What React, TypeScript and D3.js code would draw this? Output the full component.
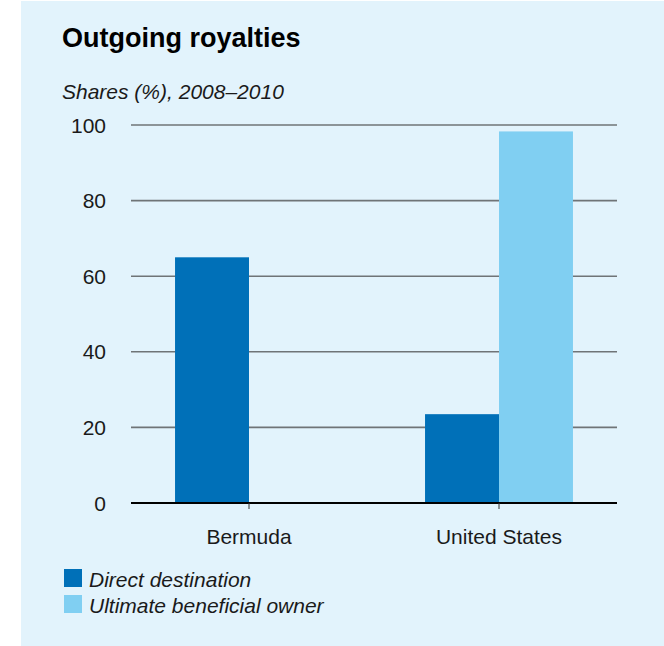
import React, { useEffect, useRef } from "react";
import * as d3 from "d3";

const categories = ["Bermuda", "United States"];
const seriesNames = ["Direct destination", "Ultimate beneficial owner"];
const directValues = [65, 23.5];
const ownerValues = [0, 98.3];
const yTicks = [0, 20, 40, 60, 80, 100];
const colors = ["#0070b8", "#80cff2"];

export default function App() {
  const ref = useRef<SVGSVGElement>(null);

  useEffect(() => {
    if (!ref.current) return;
    const root = d3.select(ref.current);
    root.selectAll("*").remove();

    const font = "'Liberation Sans', Arial, Helvetica, sans-serif";

    // panel background
    root
      .append("rect")
      .attr("x", 21)
      .attr("y", 1)
      .attr("width", 643)
      .attr("height", 645)
      .attr("fill", "#e2f3fc");

    root
      .append("text")
      .attr("x", 62)
      .attr("y", 47)
      .style("font-family", font)
      .style("font-size", "27px")
      .style("font-weight", "bold")
      .attr("fill", "#000")
      .text("Outgoing royalties");

    root
      .append("text")
      .attr("x", 62)
      .attr("y", 99)
      .style("font-family", font)
      .style("font-size", "21px")
      .style("font-style", "italic")
      .attr("fill", "#1a1a1a")
      .text("Shares (%), 2008–2010");

    const y = d3.scaleLinear().domain([0, 100]).range([503, 125]);
    const x0 = d3.scaleBand().domain(categories).range([124, 624]).padding(0);
    const x1 = d3
      .scaleBand()
      .domain(seriesNames)
      .range([0, x0.bandwidth()])
      .paddingInner(0)
      .paddingOuter(0.69);

    // gridlines
    root
      .append("g")
      .selectAll("line")
      .data(yTicks.filter((t) => t !== 0))
      .enter()
      .append("line")
      .attr("x1", 131)
      .attr("x2", 617)
      .attr("y1", (d) => y(d))
      .attr("y2", (d) => y(d))
      .attr("stroke", "#6f7477")
      .attr("stroke-width", 1.6);

    // y labels
    root
      .append("g")
      .selectAll("text")
      .data(yTicks)
      .enter()
      .append("text")
      .attr("x", 106)
      .attr("y", (d) => y(d) + 7.5)
      .attr("text-anchor", "end")
      .style("font-family", font)
      .style("font-size", "21px")
      .attr("fill", "#1a1a1a")
      .text((d) => d);

    // bars
    const rows = categories.map((c, i) => ({
      cat: c,
      vals: [directValues[i], ownerValues[i]],
    }));
    const groups = root
      .append("g")
      .selectAll("g")
      .data(rows)
      .enter()
      .append("g")
      .attr("transform", (d) => `translate(${x0(d.cat)},0)`);
    groups
      .selectAll("rect")
      .data((d) => d.vals.map((v, j) => ({ v, s: seriesNames[j], j })))
      .enter()
      .append("rect")
      .attr("x", (d) => x1(d.s) as number)
      .attr("width", x1.bandwidth())
      .attr("y", (d) => y(d.v))
      .attr("height", (d) => y(0) - y(d.v))
      .attr("fill", (d) => colors[d.j]);

    // baseline + ticks
    root
      .append("line")
      .attr("x1", 131)
      .attr("x2", 617)
      .attr("y1", y(0))
      .attr("y2", y(0))
      .attr("stroke", "#000")
      .attr("stroke-width", 2);

    root
      .append("g")
      .selectAll("line")
      .data(categories)
      .enter()
      .append("line")
      .attr("x1", (d) => (x0(d) as number) + x0.bandwidth() / 2)
      .attr("x2", (d) => (x0(d) as number) + x0.bandwidth() / 2)
      .attr("y1", y(0))
      .attr("y2", y(0) + 6)
      .attr("stroke", "#333")
      .attr("stroke-width", 1);

    root
      .append("g")
      .selectAll("text")
      .data(categories)
      .enter()
      .append("text")
      .attr("x", (d) => (x0(d) as number) + x0.bandwidth() / 2)
      .attr("y", 544)
      .attr("text-anchor", "middle")
      .style("font-family", font)
      .style("font-size", "21px")
      .attr("fill", "#1a1a1a")
      .text((d) => d);

    // legend
    const legend = root
      .append("g")
      .selectAll("g")
      .data(seriesNames)
      .enter()
      .append("g")
      .attr("transform", (_d, i) => `translate(64,${569 + i * 26})`);
    legend
      .append("rect")
      .attr("width", 18)
      .attr("height", 18)
      .attr("fill", (_d, i) => colors[i]);
    legend
      .append("text")
      .attr("x", 25)
      .attr("y", 18)
      .style("font-family", font)
      .style("font-size", "21px")
      .style("font-style", "italic")
      .attr("fill", "#1a1a1a")
      .text((d) => d);
  }, []);

  return (
    <svg
      ref={ref}
      width={664}
      height={646}
      style={{ position: "absolute", left: 0, top: 0, background: "#fff" }}
    />
  );
}
